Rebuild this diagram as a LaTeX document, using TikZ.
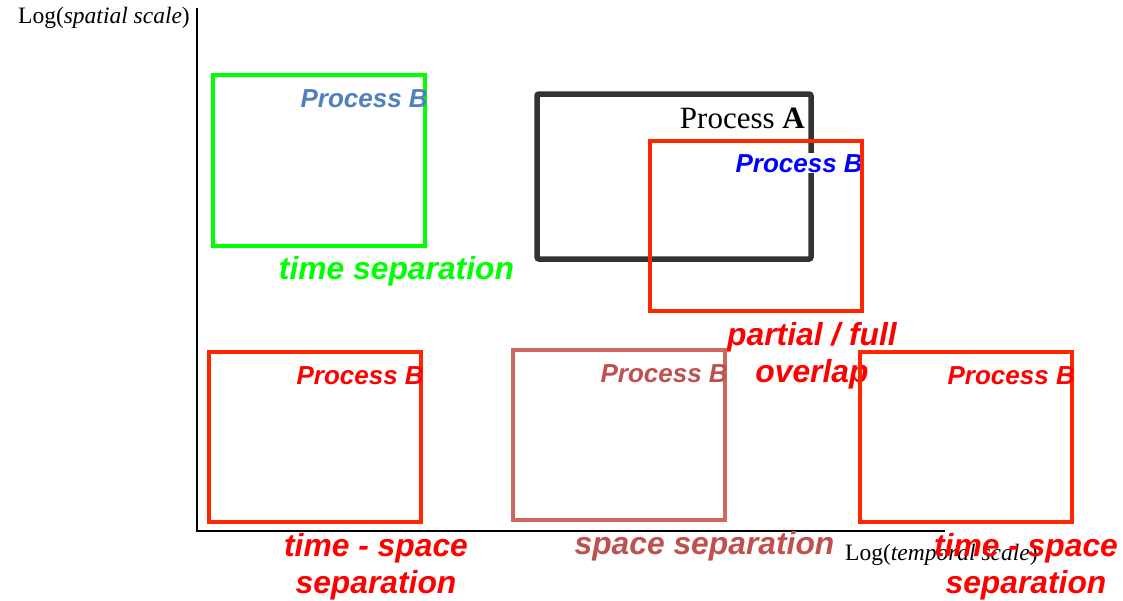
\documentclass[tikz,border=0pt]{standalone}
\usepackage{fontspec}
\setmainfont{Liberation Serif}
\newfontfamily\hvfont{Liberation Sans}
\definecolor{boxred}{HTML}{FF2600}
\definecolor{txtred}{HTML}{FF0000}
\definecolor{lime}{HTML}{00FF00}
\definecolor{rose}{HTML}{CC6860}
\definecolor{rosetxt}{HTML}{C0504D}
\definecolor{steel}{HTML}{4F81BD}
\definecolor{dgray}{HTML}{333333}
\tikzset{
  axisline/.style={line width=2pt, black},
  bbox/.style={line width=4pt},
  abox/.style={line width=5.5pt, dgray, rounded corners=2pt},
  plabel/.style={font=\hvfont\bfseries\itshape\fontsize{26}{30}\selectfont, inner sep=0pt, anchor=base east},
  biglabel/.style={font=\hvfont\bfseries\itshape\fontsize{31.8}{37}\selectfont, inner sep=0pt, align=center},
  axlabel/.style={font=\fontsize{23.5}{28}\selectfont, inner sep=0pt}
}
\begin{document}
\begin{tikzpicture}[x=1pt,y=-1pt]
\useasboundingbox (0,0) rectangle (1123,600);
% axes
\coordinate (o) at (197,531);
\coordinate (ytop) at (197,8);
\coordinate (xend) at (945,531);
\draw[axisline] (ytop) -- (o) -- (xend);
\node[axlabel, anchor=base east] (ylab) at (190,23) {Log(\textit{spatial scale})};
% green box
\draw[bbox, lime] (213,75) rectangle (425,246);
\node[plabel, text=steel] (pbg) at (428,107) {Process B};
\node[biglabel, text=lime, anchor=base] (tsep) at (396.5,279) {time separation};
% process A
\draw[abox] (537,94) rectangle (811,259);
\node[font=\fontsize{31}{36}\selectfont, inner sep=0pt, anchor=base east] (pa) at (805,128) {Process \textbf{A}};
\node[plabel, text=blue, fill=white, inner sep=1pt] (pbb) at (864,172) {Process B};
\draw[bbox, boxred] (650,141) rectangle (862,311);
\node[biglabel, text=txtred, anchor=center] (ovl) at (812,356) {partial / full\\overlap};
% bottom boxes
\draw[bbox, boxred] (209,352) rectangle (421,522);
\node[plabel, text=txtred] (pb1) at (424,384) {Process B};
\draw[bbox, rose] (513,350) rectangle (725,520);
\node[plabel, text=rosetxt] (pb2) at (728,382) {Process B};
\node[biglabel, text=rosetxt, anchor=base] (ssep) at (704.5,554) {space separation};
\draw[bbox, boxred] (860,352) rectangle (1072,522);
\node[plabel, text=txtred] (pb3) at (1075,384) {Process B};
\node[axlabel, anchor=base west] (xlab) at (845,560) {Log(\textit{temporal scale})};
\node[biglabel, text=txtred, anchor=center] (tss1) at (376,567) {time - space\\separation};
\node[biglabel, text=txtred, anchor=center] (tss2) at (1026,567) {time - space\\separation};
\end{tikzpicture}
\end{document}
